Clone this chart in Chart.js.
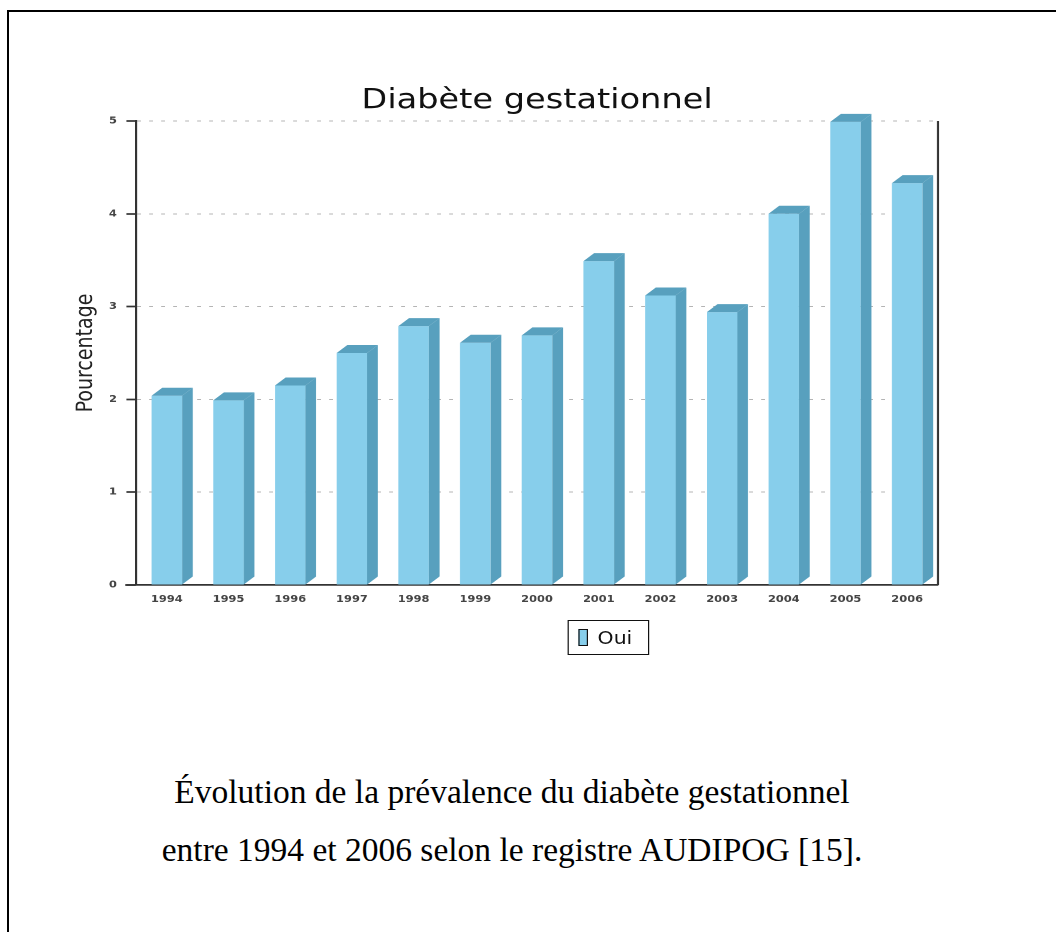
<!DOCTYPE html>
<html lang="fr">
<head>
<meta charset="utf-8">
<title>Diabète gestationnel</title>
<script src="https://cdn.jsdelivr.net/npm/chart.js@4.4.1/dist/chart.umd.min.js"></script>
<style>
    html, body { margin: 0; padding: 0; background: #fff; width: 1056px; height: 932px; overflow: hidden; }
    #frame { position: absolute; left: 7px; top: 9.5px; width: 1200px; height: 1000px;
             border-top: 2.2px solid #000; border-left: 2px solid #000; }
    /* the source picture is stretched sideways, so is the chart */
    #stretch { position: absolute; left: 0; top: 0; width: 880px; height: 700px;
               transform: scaleX(1.2); transform-origin: 0 0; }
    #chartBox { position: absolute; left: 0; top: 0; width: 880px; height: 615px; }
    #legend { position: absolute; left: 472.5px; top: 620px; width: 66px; height: 33px;
              border: 1.3px solid #111; font-family: "DejaVu Sans", sans-serif; font-size: 17px;
              color: #111; display: flex; align-items: center; }
    #legend .swatch { display: inline-block; width: 6px; height: 15px; margin: 0 8px 0 8.5px;
                      border: 1px solid #111; }
    .caption { position: absolute; left: 0; width: 1024px; text-align: center;
               font-family: "Liberation Serif", "Times New Roman", serif; font-size: 33.5px;
               line-height: 58px; color: #000; white-space: nowrap; }
</style>
</head>
<body>
<div id="frame"></div>
<div id="stretch">
    <div id="chartBox"><canvas id="diabeteChart"></canvas></div>
    <div id="legend"></div>
</div>
<div class="caption" style="top: 763px;">Évolution de la prévalence du diabète gestationnel</div>
<div class="caption" style="top: 821px;">entre 1994 et 2006 selon le registre AUDIPOG [15].</div>

<script>
// data
const years = ["1994", "1995", "1996", "1997", "1998", "1999", "2000",
               "2001", "2002", "2003", "2004", "2005", "2006"];
const ouiValues = [2.04, 1.99, 2.15, 2.50, 2.79, 2.61, 2.69,
                   3.49, 3.12, 2.94, 4.00, 4.99, 4.33];
const seriesLabel = "Oui";
const yTicks = [0, 1, 2, 3, 4, 5];

document.addEventListener("DOMContentLoaded", function () {
    const frontColor = "#87ceeb";
    const sideColor = "#58a0be";
    const tickFont = { family: "DejaVu Sans", size: 9.5, weight: "bold" };

    // draws the side and the top of each bar, for the 3D look
    const bar3d = {
        id: "bar3d",
        afterDatasetsDraw(chart, args, opts) {
            const ctx = chart.ctx;
            chart.data.datasets.forEach((ds, i) => {
                chart.getDatasetMeta(i).data.forEach(bar => {
                    const p = bar.getProps(["x", "y", "base", "width"], true);
                    const l = p.x - p.width / 2;
                    const r = p.x + p.width / 2;
                    ctx.save();
                    ctx.fillStyle = opts.side;
                    ctx.beginPath();
                    ctx.moveTo(r, p.y);
                    ctx.lineTo(r + opts.dx, p.y - opts.dy);
                    ctx.lineTo(r + opts.dx, p.base - opts.dy);
                    ctx.lineTo(r, p.base);
                    ctx.closePath();
                    ctx.fill();
                    ctx.fillStyle = opts.top;
                    ctx.beginPath();
                    ctx.moveTo(l, p.y);
                    ctx.lineTo(l + opts.dx, p.y - opts.dy);
                    ctx.lineTo(r + opts.dx, p.y - opts.dy);
                    ctx.lineTo(r, p.y);
                    ctx.closePath();
                    ctx.fill();
                    ctx.restore();
                });
            });
        }
    };

    // right edge line of the plot, and the bit of base line left of the y axis
    const plotFrame = {
        id: "plotFrame",
        beforeDatasetsDraw(chart) {
            const a = chart.chartArea;
            const ctx = chart.ctx;
            ctx.save();
            ctx.strokeStyle = "#333";
            ctx.lineWidth = 1.7;
            ctx.beginPath();
            ctx.moveTo(a.right, a.top);
            ctx.lineTo(a.right, a.bottom);
            ctx.moveTo(a.left - 9, a.bottom);
            ctx.lineTo(a.left, a.bottom);
            ctx.stroke();
            ctx.restore();
        }
    };

    const ctx = document.getElementById("diabeteChart").getContext("2d");

    const chart = new Chart(ctx, {
        type: "bar",
        data: {
            labels: years,
            datasets: [{
                label: seriesLabel,
                data: ouiValues,
                backgroundColor: frontColor,
                borderWidth: 0,
                categoryPercentage: 1,
                barPercentage: 0.495
            }]
        },
        options: {
            responsive: true,
            maintainAspectRatio: false,
            animation: false,
            devicePixelRatio: 2,
            layout: { padding: { top: 0, left: 0, right: 98.3, bottom: 0 } },
            plugins: {
                legend: { display: false },
                tooltip: { enabled: false },
                title: {
                    display: true,
                    fullSize: false,
                    text: "Diabète gestationnel",
                    color: "#111",
                    font: { family: "DejaVu Sans", size: 28, weight: "normal", lineHeight: 1.2 },
                    padding: { top: 84, bottom: 3.4 }
                },
                bar3d: { dx: 8.9, dy: 8, side: sideColor, top: sideColor }
            },
            scales: {
                x: {
                    grid: { display: false },
                    border: { display: true, color: "#333", width: 1.7 },
                    ticks: { color: "#444", font: tickFont, padding: 1, maxRotation: 0 },
                    afterFit(scale) { scale.height = 30; }
                },
                y: {
                    min: 0,
                    max: 5,
                    afterBuildTicks(scale) { scale.ticks = yTicks.map(v => ({ value: v })); },
                    grid: {
                        color: "#b4b4b4",
                        lineWidth: 1,
                        tickColor: "#333",
                        tickWidth: 1.7,
                        tickLength: 8,
                        tickBorderDash: []
                    },
                    border: { display: true, color: "#333", width: 1.7, dash: [3.3, 6.7] },
                    ticks: { color: "#444", font: tickFont, padding: 8 },
                    title: {
                        display: true,
                        text: "Pourcentage",
                        color: "#222",
                        font: { family: "DejaVu Sans", size: 19, lineHeight: 1.2 },
                        padding: { top: 60, bottom: 0 }
                    },
                    afterFit(scale) { scale.width = 113.3; }
                }
            }
        },
        plugins: [plotFrame, bar3d]
    });

    // legend box built from the dataset
    const legend = document.getElementById("legend");
    chart.data.datasets.forEach(ds => {
        const sw = document.createElement("span");
        sw.className = "swatch";
        sw.style.background = ds.backgroundColor;
        legend.appendChild(sw);
        legend.appendChild(document.createTextNode(ds.label));
    });
});
</script>
</body>
</html>
